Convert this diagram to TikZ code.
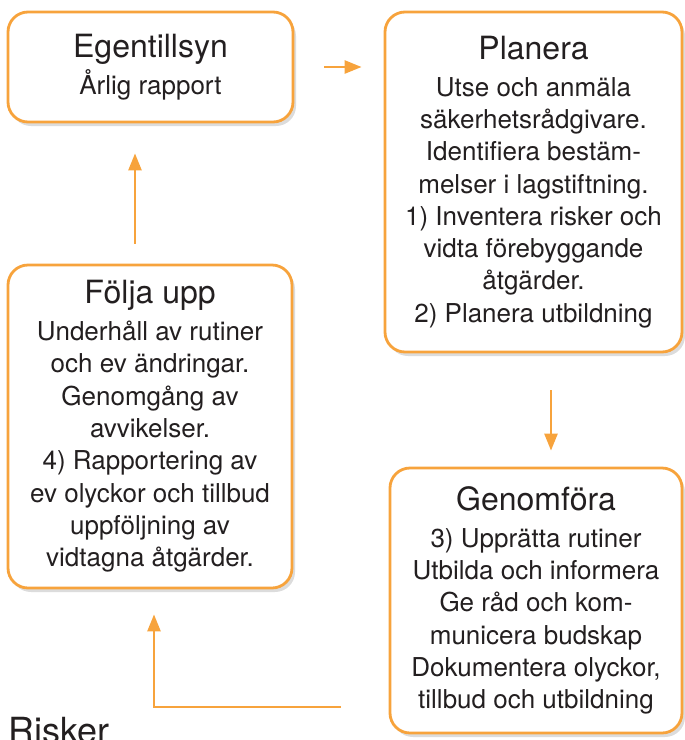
\documentclass[tikz,border=0pt]{standalone}
\usepackage{fontspec}
\setmainfont{TeX Gyre Heros}
\usetikzlibrary{arrows.meta, shadows, positioning}

\definecolor{cycleorange}{RGB}{247,163,60}
\definecolor{inktext}{RGB}{35,31,32}

\newcommand{\steptitle}[1]{{\fontsize{32}{32}\selectfont #1}\\[4.5pt]}

\begin{document}
\begin{tikzpicture}[x=1pt,y=-1pt,>={Triangle[length=17pt,width=13pt]},
	stage/.style={draw=cycleorange, line width=2.8pt, rounded corners=20pt, fill=white,
		align=center, inner sep=0pt, text=inktext, font=\fontsize{26}{32.3}\selectfont,
		drop shadow={fill=black!45, opacity=0.3, shadow xshift=3pt, shadow yshift=-4pt}},
	flow/.style={->, draw=cycleorange, line width=2.6pt}]
	\useasboundingbox (0,0) rectangle (685,740);
	
	\node[stage, minimum width=285pt, minimum height=110pt] (egen) at (150.5,67)
		{\steptitle{Egentillsyn}Årlig rapport};
	\node[stage, minimum width=297pt, minimum height=340pt] (plan) at (533.5,182)
		{\steptitle{Planera}Utse och anmäla\\säkerhetsrådgivare.\\Identifiera bestäm-\\melser i lagstiftning.\\1) Inventera risker och\\vidta förebyggande\\åtgärder.\\2) Planera utbildning};
	\node[stage, minimum width=292pt, minimum height=265pt] (genom) at (536,600.5)
		{\steptitle{Genomföra}3) Upprätta rutiner\\Utbilda och informera\\Ge råd och kom-\\municera budskap\\Dokumentera olyckor,\\tillbud och utbildning};
	\node[stage, minimum width=284pt, minimum height=323pt] (folja) at (150,426.5)
		{\steptitle{Följa upp}Underhåll av rutiner\\och ev ändringar.\\Genomgång av\\avvikelser.\\4) Rapportering av\\ev olyckor och tillbud\\uppföljning av\\vidtagna åtgärder.};
	
	\node[anchor=base west, inner sep=0pt, text=inktext, font=\fontsize{36}{36}\selectfont] (risker) at (8,743) {Risker};
	
	% the cycle
	\draw[flow, shorten <=30pt, shorten >=22pt] (egen.east) -- (egen.east -| plan.west);
	\draw[flow, shorten <=37pt, shorten >=16pt] ([xshift=17.5pt]plan.south) -- ([xshift=17.5pt]plan.south |- genom.north);
	\coordinate (tail) at ([xshift=-48pt,yshift=-106.5pt]genom.west);
	\draw[flow, shorten >=25pt] (tail) -| ([xshift=4pt]folja.south);
	\draw[flow, shorten <=20pt, shorten >=30pt] ([xshift=-15pt]folja.north) -- ([xshift=-15pt]folja.north |- egen.south);
\end{tikzpicture}
\end{document}
